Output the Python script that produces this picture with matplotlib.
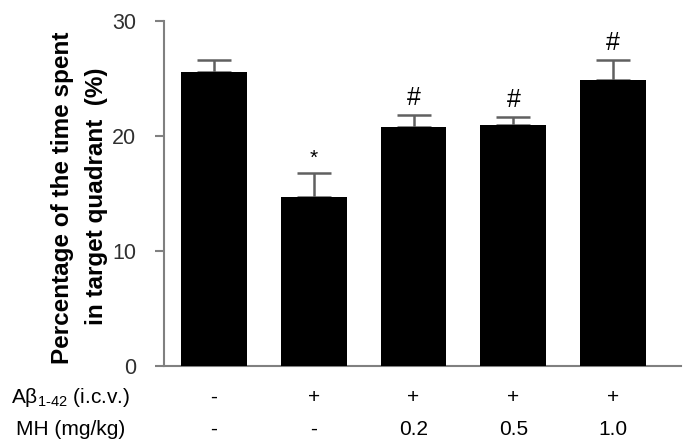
import matplotlib
matplotlib.use("Agg")
import matplotlib.pyplot as plt
import numpy as np

# values
means = [25.6, 14.7, 20.8, 20.95, 24.85]
errs = [1.0, 2.05, 1.0, 0.7, 1.75]
marks = ["", "*", "#", "#", "#"]
abeta = ["-", "+", "+", "+", "+"]
mh = ["-", "-", "0.2", "0.5", "1.0"]
yticks = [0, 10, 20, 30]

narrow = ["Liberation Sans Narrow", "Liberation Sans", "DejaVu Sans"]
plt.rcParams['font.family'] = ["Liberation Sans", "DejaVu Sans"]
plt.rcParams['mathtext.fontset'] = "custom"
plt.rcParams['mathtext.rm'] = "Liberation Sans"

fig = plt.figure(figsize=(6.92, 4.48), dpi=100)
ax = fig.add_axes([164/692, 1 - 366/448, (681 - 164)/692, (366 - 21)/448])

x = np.arange(len(means))
ax.bar(x, means, width=0.66, color="black", zorder=3)
ax.errorbar(x, means, yerr=[np.zeros(len(errs)), errs], fmt="none",
            ecolor="#606060", elinewidth=1.8, capsize=12, capthick=1.8, zorder=2)

for xi, m, e, s in zip(x, means, errs, marks):
    if s == "*":
        ax.text(xi, m + e + 1.3, s, ha="center", va="center", fontsize=15)
    elif s:
        ax.text(xi, m + e + 1.5, s, ha="center", va="center", fontsize=18)

ax.set_xlim(-0.5, 4.68)
ax.set_ylim(0, 30)
ax.set_yticks(yticks)
ax.set_yticklabels([str(t) for t in yticks], family=narrow, fontsize=15.5)
ax.set_xticks([])
ax.tick_params(axis="y", length=6.5, width=1.5, color="#808080", pad=13.5, labelcolor="#303030")
for sp in ["top", "right"]:
    ax.spines[sp].set_visible(False)
for sp in ["left", "bottom"]:
    ax.spines[sp].set_color("#808080")
    ax.spines[sp].set_linewidth(1.5)

fig.text(63/692, 1 - 198/448, "Percentage of the time spent", rotation=90,
         ha="center", va="center", fontsize=17.5, fontweight="bold")
fig.text(97/692, 1 - 196/448, "in target quadrant  (%)", rotation=90,
         ha="center", va="center", fontsize=17.5, fontweight="bold")

# treatment table under the bars
row1_y = 1 - 397/448
row2_y = 1 - 429/448
fig.text(71/692, row1_y, "A\u03b2" + r"$_{\mathrm{1\text{-}42}}$ (i.c.v.)", ha="center", va="center",
         fontsize=15, family=narrow)
fig.text(71/692, row2_y, "MH (mg/kg)", ha="center", va="center", fontsize=15, family=narrow)
for xi, a, b in zip(x, abeta, mh):
    xf = (164 + (xi + 0.5) * 99.8) / 692
    fig.text(xf, row1_y, a, ha="center", va="center", fontsize=15, family=narrow)
    fig.text(xf, row2_y, b, ha="center", va="center", fontsize=15, family=narrow)

fig.savefig("out.png", dpi=100)
